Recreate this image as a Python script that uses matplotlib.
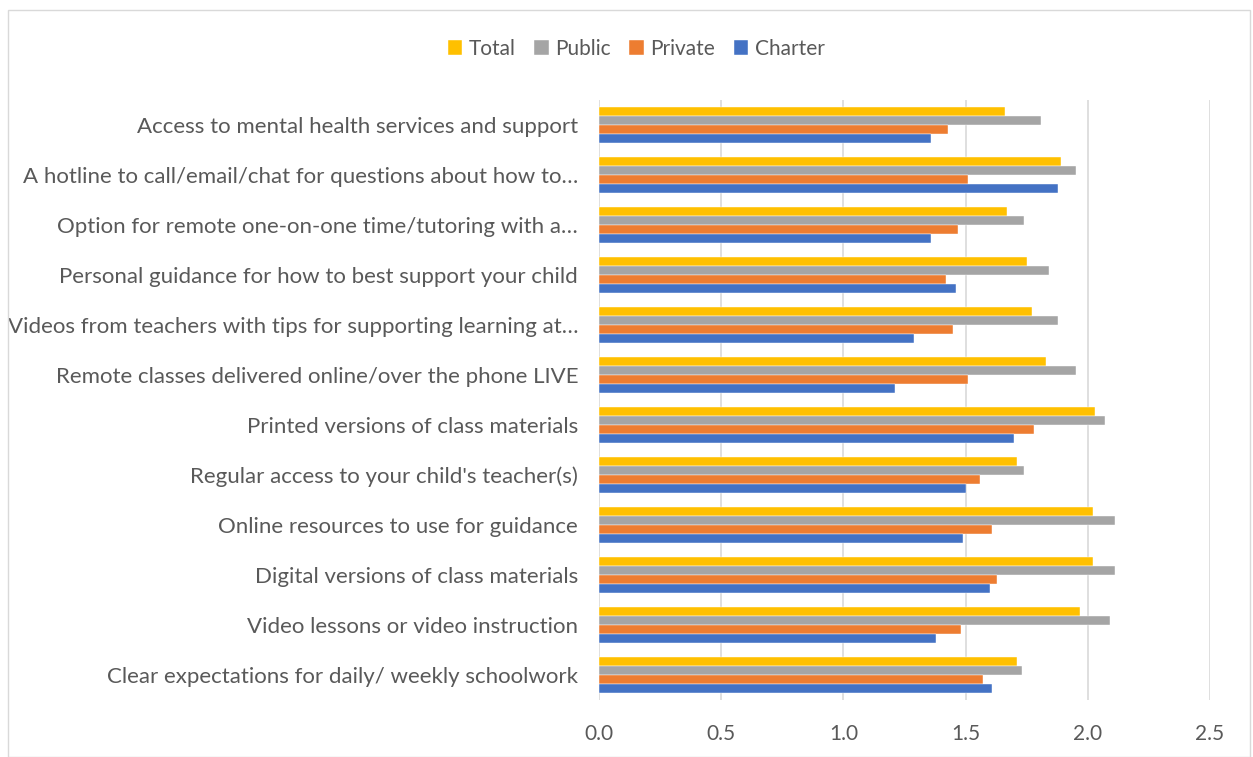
import numpy as np
import matplotlib
matplotlib.use('Agg')
import matplotlib.pyplot as plt
from matplotlib.patches import Rectangle

plt.rcParams['font.family'] = ['Lato', 'DejaVu Sans']

# Categories, top to bottom
categories = [
    'Access to mental health services and support',
    'A hotline to call/email/chat for questions about how to…',
    'Option for remote one-on-one time/tutoring with a…',
    'Personal guidance for how to best support your child',
    'Videos from teachers with tips for supporting learning at…',
    'Remote classes delivered online/over the phone LIVE',
    'Printed versions of class materials',
    "Regular access to your child's teacher(s)",
    'Online resources to use for guidance',
    'Digital versions of class materials',
    'Video lessons or video instruction',
    'Clear expectations for daily/ weekly schoolwork',
]

total   = [1.66, 1.89, 1.67, 1.75, 1.77, 1.83, 2.03, 1.71, 2.02, 2.02, 1.97, 1.71]
public  = [1.81, 1.95, 1.74, 1.84, 1.88, 1.95, 2.07, 1.74, 2.11, 2.11, 2.09, 1.73]
private = [1.43, 1.51, 1.47, 1.42, 1.45, 1.51, 1.78, 1.56, 1.61, 1.63, 1.48, 1.57]
charter = [1.36, 1.88, 1.36, 1.46, 1.29, 1.21, 1.70, 1.50, 1.49, 1.60, 1.38, 1.61]

series = [('Total', total, '#FFC000'),
          ('Public', public, '#A5A5A5'),
          ('Private', private, '#ED7D31'),
          ('Charter', charter, '#4472C4')]

text_color = '#595959'
grid_color = '#D9D9D9'

fig = plt.figure(figsize=(12.53, 7.57), dpi=100)
ax = fig.add_axes([599 / 1253, 1 - 700 / 757, 611 / 1253, 600 / 757])

# chart area border
fig.patches.append(Rectangle((8 / 1253, 0), 1242 / 1253, 1 - 10 / 757,
                             transform=fig.transFigure, fill=False,
                             edgecolor=grid_color, linewidth=1))

n = len(categories)
y = np.arange(n)[::-1].astype(float)
bar_h = 0.18
offsets = [1.5, 0.5, -0.5, -1.5]

for (name, vals, col), off in zip(series, offsets):
    ax.barh(y + off * bar_h, vals, height=bar_h, color=col, label=name,
            edgecolor='white', linewidth=0.3, zorder=3)

ax.set_xlim(0, 2.5)
ax.set_ylim(-0.5, n - 0.5)
ax.set_xticks(np.arange(0, 2.51, 0.5))
ax.set_xticklabels([f'{v:.1f}' for v in np.arange(0, 2.51, 0.5)])
ax.set_yticks(y)
ax.set_yticklabels(categories)

ax.grid(axis='x', color=grid_color, linewidth=1.2, zorder=0)
for s in ax.spines.values():
    s.set_visible(False)
ax.tick_params(axis='both', length=0, colors=text_color)
ax.tick_params(axis='x', pad=17, labelsize=15)
ax.tick_params(axis='y', pad=15, labelsize=16)

fig.legend(loc='center', bbox_to_anchor=(636 / 1253, 1 - 49 / 757), ncol=4,
           frameon=False, fontsize=15, labelcolor=text_color,
           handlelength=0.7, handleheight=0.7, handletextpad=0.3,
           columnspacing=0.9)

fig.savefig('out.png', dpi=100)
